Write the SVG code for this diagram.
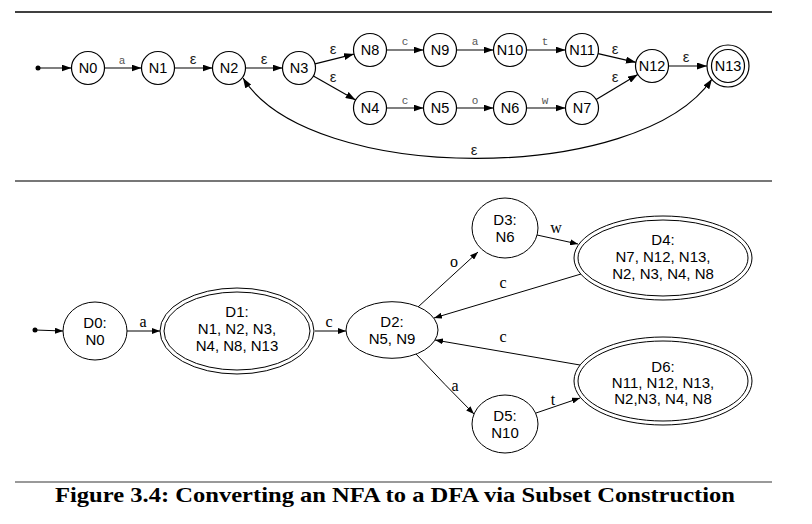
<svg xmlns="http://www.w3.org/2000/svg" width="812" height="524" viewBox="0 0 812 524">
<style>
.n circle,.n ellipse{fill:#fff;stroke:#000;stroke-width:1.2}
.d ellipse{fill:#fff;stroke:#000;stroke-width:1}
.nl{font-family:"Liberation Sans",Arial,sans-serif;font-size:14.5px;fill:#000;text-anchor:middle}
.dl{font-family:"Liberation Sans",Arial,sans-serif;font-size:15px;fill:#000;text-anchor:middle}
.e{fill:none;stroke:#000;stroke-width:1.2}
.de{fill:none;stroke:#000;stroke-width:1}
.cl{font-family:"Liberation Mono","Courier New",monospace;font-size:11px;fill:#555;text-anchor:middle}
.ep{font-family:"Liberation Sans",Arial,sans-serif;font-size:15px;fill:#222;text-anchor:middle}
.sl{font-family:"Liberation Serif","Times New Roman",serif;font-size:16px;fill:#000;text-anchor:middle}
</style>
<defs>
<marker id="a" markerUnits="userSpaceOnUse" markerWidth="10" markerHeight="7" refX="10" refY="3.5" orient="auto-start-reverse"><path d="M0,0 L10,3.5 L0,7 z" fill="#000"/></marker>
<marker id="b" markerUnits="userSpaceOnUse" markerWidth="8" markerHeight="6" refX="8" refY="3" orient="auto"><path d="M0,0 L8,3 L0,6 z" fill="#000"/></marker>
</defs>
<line x1="15" y1="12" x2="772" y2="12" stroke="#000" stroke-width="1.5"/>
<line x1="15" y1="181" x2="772" y2="181" stroke="#777" stroke-width="2"/>
<line x1="15" y1="482" x2="772" y2="482" stroke="#777" stroke-width="1.5"/>

<g id="connectors">
<circle cx="38" cy="68" r="2.5" fill="#000"/>
<path class="e" d="M38,68 L71.5,68" marker-end="url(#a)"/>
<path class="e" d="M104.5,68 L141.5,68" marker-end="url(#a)"/>
<path class="e" d="M174.5,68 L212.5,68" marker-end="url(#a)"/>
<path class="e" d="M245.5,68 L282.5,68" marker-end="url(#a)"/>
<path class="e" d="M315,63.9 L354,54.1" marker-end="url(#a)"/>
<path class="e" d="M313.4,76.1 L355.6,99.9" marker-end="url(#a)"/>
<path class="e" d="M386.5,50 L423.5,50" marker-end="url(#a)"/>
<path class="e" d="M456.5,50 L493.5,50" marker-end="url(#a)"/>
<path class="e" d="M526.5,50 L565.5,50" marker-end="url(#a)"/>
<path class="e" d="M386.5,108 L423.5,108" marker-end="url(#a)"/>
<path class="e" d="M456.5,108 L493.5,108" marker-end="url(#a)"/>
<path class="e" d="M526.5,108 L565.5,108" marker-end="url(#a)"/>
<path class="e" d="M598.1,53.7 L635.9,62.3" marker-end="url(#a)"/>
<path class="e" d="M596.2,99.5 L637.8,74.5" marker-end="url(#a)"/>
<path class="e" d="M668.5,66 L707,66" marker-end="url(#a)"/>
<path class="e" d="M243,78 C310,185 640,185 712,79" marker-start="url(#a)" marker-end="url(#a)"/>
<text class="cl" x="122" y="64">a</text>
<text class="ep" x="193" y="64">ε</text>
<text class="ep" x="264" y="64">ε</text>
<text class="ep" x="333" y="54">ε</text>
<text class="ep" x="333" y="82">ε</text>
<text class="cl" x="405" y="45">c</text>
<text class="cl" x="475" y="45">a</text>
<text class="cl" x="545" y="45">t</text>
<text class="cl" x="405" y="104">c</text>
<text class="cl" x="475" y="104">o</text>
<text class="cl" x="545" y="104">w</text>
<text class="ep" x="615" y="54">ε</text>
<text class="ep" x="615" y="82">ε</text>
<text class="ep" x="686" y="62">ε</text>
<text class="ep" x="474" y="155">ε</text>

<circle cx="35" cy="330" r="2.5" fill="#000"/>
<path class="de" d="M35,330 L63,331" marker-end="url(#b)"/>
<path class="de" d="M127,331 L160,331" marker-end="url(#b)"/>
<path class="de" d="M315,331 L346,331" marker-end="url(#b)"/>
<path class="de" d="M418,307 L478,252" marker-end="url(#b)"/>
<path class="de" d="M537,235 L578,244" marker-end="url(#b)"/>
<path class="de" d="M581,274 L434,318" marker-end="url(#b)"/>
<path class="de" d="M580,365 L435,340" marker-end="url(#b)"/>
<path class="de" d="M416,354 Q445,385 474,414" marker-end="url(#b)"/>
<path class="de" d="M536,413 L580,398" marker-end="url(#b)"/>
<text class="sl" x="143" y="327">a</text>
<text class="sl" x="329" y="327">c</text>
<text class="sl" x="454" y="267">o</text>
<text class="sl" x="556" y="233">w</text>
<text class="sl" x="503" y="288">c</text>
<text class="sl" x="503" y="342">c</text>
<text class="sl" x="455" y="391">a</text>
<text class="sl" x="553" y="405">t</text>
</g>

<g id="N0" class="n"><circle cx="88" cy="68" r="16.5"/><text class="nl" x="88" y="73">N0</text></g>
<g id="N1" class="n"><circle cx="158" cy="68" r="16.5"/><text class="nl" x="158" y="73">N1</text></g>
<g id="N2" class="n"><circle cx="229" cy="68" r="16.5"/><text class="nl" x="229" y="73">N2</text></g>
<g id="N3" class="n"><circle cx="299" cy="68" r="16.5"/><text class="nl" x="299" y="73">N3</text></g>
<g id="N8" class="n"><circle cx="370" cy="50" r="16.5"/><text class="nl" x="370" y="55">N8</text></g>
<g id="N9" class="n"><circle cx="440" cy="50" r="16.5"/><text class="nl" x="440" y="55">N9</text></g>
<g id="N10" class="n"><circle cx="510" cy="50" r="16.5"/><text class="nl" x="510" y="55">N10</text></g>
<g id="N11" class="n"><circle cx="582" cy="50" r="16.5"/><text class="nl" x="582" y="55">N11</text></g>
<g id="N4" class="n"><circle cx="370" cy="108" r="16.5"/><text class="nl" x="370" y="113">N4</text></g>
<g id="N5" class="n"><circle cx="440" cy="108" r="16.5"/><text class="nl" x="440" y="113">N5</text></g>
<g id="N6" class="n"><circle cx="510" cy="108" r="16.5"/><text class="nl" x="510" y="113">N6</text></g>
<g id="N7" class="n"><circle cx="582" cy="108" r="16.5"/><text class="nl" x="582" y="113">N7</text></g>
<g id="N12" class="n"><circle cx="652" cy="66" r="16.5"/><text class="nl" x="652" y="71">N12</text></g>
<g id="N13" class="n"><circle cx="728" cy="66" r="21"/><circle cx="728" cy="66" r="16.5"/><text class="nl" x="728" y="71">N13</text></g>

<g id="D0" class="d"><ellipse cx="95" cy="331" rx="32" ry="29"/><text class="dl" x="95" y="328">D0:</text><text class="dl" x="95" y="345">N0</text></g>
<g id="D1" class="d"><ellipse cx="237" cy="331" rx="77" ry="43"/><ellipse cx="237" cy="331" rx="73" ry="39"/><text class="dl" x="237" y="317">D1:</text><text class="dl" x="237" y="334">N1, N2, N3,</text><text class="dl" x="237" y="351">N4, N8, N13</text></g>
<g id="D2" class="d"><ellipse cx="392" cy="330" rx="46" ry="28.3"/><text class="dl" x="392" y="327">D2:</text><text class="dl" x="392" y="344">N5, N9</text></g>
<g id="D3" class="d"><ellipse cx="505" cy="228" rx="33" ry="30"/><text class="dl" x="505" y="225">D3:</text><text class="dl" x="505" y="242">N6</text></g>
<g id="D5" class="d"><ellipse cx="505" cy="424" rx="33" ry="29"/><text class="dl" x="505" y="421">D5:</text><text class="dl" x="505" y="438">N10</text></g>
<g id="D4" class="d"><ellipse cx="663" cy="258" rx="89" ry="42"/><ellipse cx="663" cy="258" rx="85" ry="38"/><text class="dl" x="663" y="245">D4:</text><text class="dl" x="663" y="262">N7, N12, N13,</text><text class="dl" x="663" y="279">N2, N3, N4, N8</text></g>
<g id="D6" class="d"><ellipse cx="663" cy="381" rx="89" ry="44"/><ellipse cx="663" cy="381" rx="85" ry="40"/><text class="dl" x="663" y="372">D6:</text><text class="dl" x="663" y="388">N11, N12, N13,</text><text class="dl" x="663" y="404">N2,N3, N4, N8</text></g>

<text x="395" y="502" font-family="'Liberation Serif','Times New Roman',serif" font-weight="bold" font-size="22" text-anchor="middle" textLength="680" lengthAdjust="spacingAndGlyphs">Figure 3.4: Converting an NFA to a DFA via Subset Construction</text>
</svg>
